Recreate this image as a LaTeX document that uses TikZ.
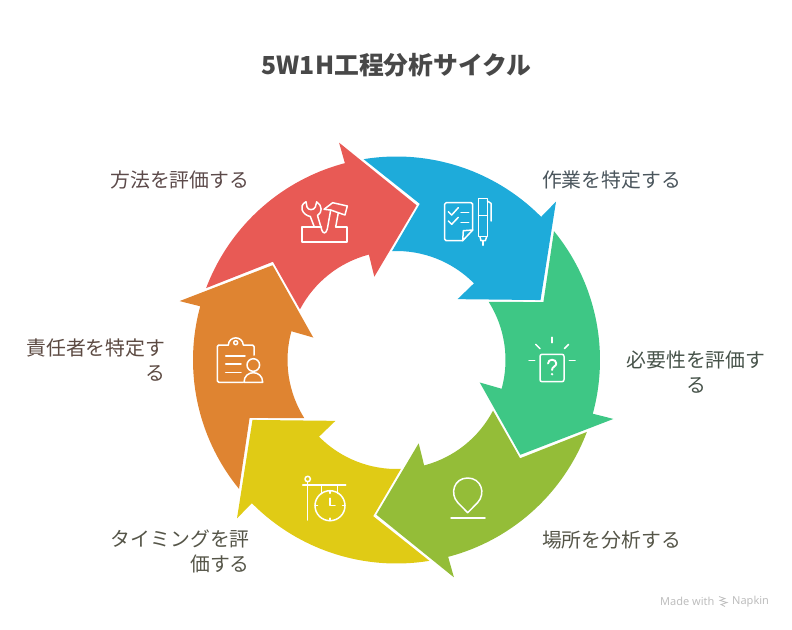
\documentclass[tikz,border=0pt]{standalone}
\usepackage{fontspec}
\setmainfont{Noto Sans CJK JP}
\newfontfamily\footfont{Noto Sans}
\definecolor{RedClr}{HTML}{E85A55}
\definecolor{BlueClr}{HTML}{1EABDA}
\definecolor{GreenClr}{HTML}{3EC785}
\definecolor{LimeClr}{HTML}{94BD38}
\definecolor{YellowClr}{HTML}{E0CB15}
\definecolor{OrangeClr}{HTML}{DF8431}
\definecolor{TitleClr}{HTML}{484848}
\definecolor{FootClr}{HTML}{BDBDBD}
\definecolor{HowClr}{HTML}{5C4A4A}
\definecolor{WhatClr}{HTML}{4A555C}
\definecolor{WhyClr}{HTML}{465249}
\definecolor{PlaceClr}{HTML}{555548}
\definecolor{WhoClr}{HTML}{5C4A42}
\tikzset{
  titletext/.style={text=TitleClr,font=\fontsize{24.8}{30}\selectfont\bfseries},
  steptext/.style={font=\fontsize{19.85}{25}\selectfont,inner sep=0pt},
  foottext/.style={text=FootClr,font=\footfont\fontsize{11}{13}\selectfont,inner sep=0pt},
  iconline/.style={draw=white,line width=1.5pt,line join=round,line cap=round}
}
% one arrow of the ring, #1 turn from the red one
\newcommand{\ringarrow}[2]{%
  \fill[#2] ({200.7+#1}:203.5) arc[start angle={200.7+#1},end angle={255.3+#1},radius=203.5]
    -- ({255.2+#1}:224.8) -- ({277.4+#1}:156) -- ({255.1+#1}:86.2) -- ({255.3+#1}:109)
    arc[start angle={255.3+#1},end angle={207.7+#1},radius=109] -- ({218.5+#1}:157.9) -- cycle;
}
\begin{document}
\begin{tikzpicture}[x=1pt,y=-1pt]
\useasboundingbox (0,0) rectangle (792,629);

\begin{scope}[shift={(396.5,360)}]
\ringarrow{0}{RedClr}
\ringarrow{60}{BlueClr}
\ringarrow{120}{GreenClr}
\ringarrow{180}{LimeClr}
\ringarrow{240}{YellowClr}
\ringarrow{300}{OrangeClr}
\end{scope}

\node[titletext] (title) at (396.5,65.5) {5W1H工程分析サイクル};

\node[steptext,anchor=east,text=HowClr] (howlabel) at (249.5,179.5) {方法を評価する};
\node[steptext,anchor=west,text=WhatClr] (whatlabel) at (541.8,179.5) {作業を特定する};
\node[steptext,align=center,text=WhyClr] (whylabel) at (696,372) {必要性を評価す\\る};
\node[steptext,anchor=west,text=PlaceClr] (wherelabel) at (541.8,539.5) {場所を分析する};
\node[steptext,anchor=east,align=right,text=PlaceClr] (whenlabel) at (250,551.5) {タイミングを評\\価する};
\node[steptext,anchor=east,align=right,text=WhoClr] (wholabel) at (165.5,360) {責任者を特定す\\る};

% tools
\draw[iconline] (321.5,226.9) -- (302,226.9) -- (302,242) -- (347,242) -- (347,226.9) -- (335.7,226.9);
\draw[iconline] (314.3,226.9) -- (310.3,216.5) .. controls (302.5,215) and (298,206) .. (306,201.7)
  -- (307,207) .. controls (308,210.5) and (314,210.5) .. (315.3,207) -- (316.7,201.9)
  .. controls (322.5,205.5) and (322.5,212.5) .. (317.5,215.5)
  -- (321.8,230) .. controls (323,234) and (326,234) .. (327.3,229) -- (330.7,210) -- (324,209.3)
  -- (332.7,202.7) -- (347.3,206) -- (345,215) -- (338.3,212.7) -- (335.7,226.9);
\draw[iconline] (330.7,210) -- (338.3,212.7);

% checklist and pen
\draw[iconline,rounded corners=1.5pt] (462.7,240.7) -- (444.7,240.7) -- (444.7,202.7) -- (472.7,202.7) -- (472.7,230);
\draw[iconline] (472.7,230) -- (462.7,240.7) -- (463.3,230.7) -- cycle;
\draw[iconline] (448.3,211.7) -- (451.7,215) -- (458.3,207.7);
\draw[iconline] (448.3,221) -- (451.7,224.3) -- (458.3,217.3);
\draw[iconline] (461,212.3) -- (468.7,212.3);
\draw[iconline] (461,222.3) -- (468.7,222.3);
\draw[iconline] (478.7,198.7) rectangle (487.3,236.7);
\draw[iconline] (478.7,215.7) -- (487.3,215.7);
\draw[iconline] (480,236.7) -- (481,240.7) -- (485.3,240.7) -- (486.7,236.7);
\draw[iconline] (483,240.7) -- (483,245.3);
\draw[iconline] (487.3,201) -- (491,203.3) -- (491,221);

% question
\draw[iconline,rounded corners=2pt] (540,354.3) rectangle (564,381.7);
\draw[iconline] (552,337.3) -- (552,342.7);
\draw[iconline] (535.7,344.3) -- (540,348.7);
\draw[iconline] (568.7,344.3) -- (564.3,348.7);
\draw[iconline] (529,360.7) -- (534.7,360.7);
\draw[iconline] (569.3,360.7) -- (575,360.7);
\draw[iconline,line width=1.9pt] (548,363.5) .. controls (548,358.5) and (556.3,358.5) .. (556.3,363.5)
  .. controls (556.3,366.5) and (552,366.5) .. (552,370);
\fill[white] (552,374.2) circle (1.3);

% pin
\draw[iconline] (467.7,512.7) -- (457.7,502.5) .. controls (449.5,493.5) and (454,478) .. (467.7,478)
  .. controls (481.4,478) and (486,493.5) .. (477.7,502.5) -- cycle;
\draw[iconline] (451,518) -- (485,518);

% sign with clock
\draw[iconline] (307.7,479) circle (2.7);
\draw[iconline] (307.7,481.7) -- (307.7,520);
\draw[iconline] (302.7,485) -- (345.7,485);
\draw[iconline] (321.7,485) -- (321.7,493.3);
\draw[iconline] (337.7,485) -- (337.7,493.3);
\draw[iconline] (330,505.7) circle (15);
\draw[iconline] (330,490.7) -- (330,493.2);
\draw[iconline] (330,520.7) -- (330,518.2);
\draw[iconline] (315,505.7) -- (317.5,505.7);
\draw[iconline] (345,505.7) -- (342.5,505.7);
\draw[iconline] (330,498.3) -- (330,505.7) -- (335,505.7);

% clipboard and person
\draw[iconline,rounded corners=1.5pt] (228.3,345) -- (217.3,345) -- (217.3,382.3) -- (243.3,382.3);
\draw[iconline,rounded corners=1.5pt] (243.3,345) -- (254,345) -- (254,355);
\draw[iconline] (228.3,345) .. controls (229,335.5) and (242.5,335.5) .. (243.3,345);
\draw[iconline] (235.7,342.7) circle (2);
\draw[iconline] (225.7,356) -- (245,356);
\draw[iconline] (225.7,364) -- (241,364);
\draw[iconline] (225.7,372.3) -- (241,372.3);
\draw[iconline] (253.3,365) circle (6.3);
\draw[iconline] (244,382.3) .. controls (244,369.5) and (262.7,369.5) .. (262.7,382.3) -- cycle;

% footer
\node[foottext,anchor=west] (madewith) at (660,601.5) {Made with};
\node[foottext,anchor=west] (napkin) at (732,601.5) {Napkin};
\draw[FootClr,line width=.8pt] (719,596.5) -- (725,598.5) -- (720,600.5) -- (727,602.5) -- (721,604.5) -- (725,606.5);
\end{tikzpicture}
\end{document}
